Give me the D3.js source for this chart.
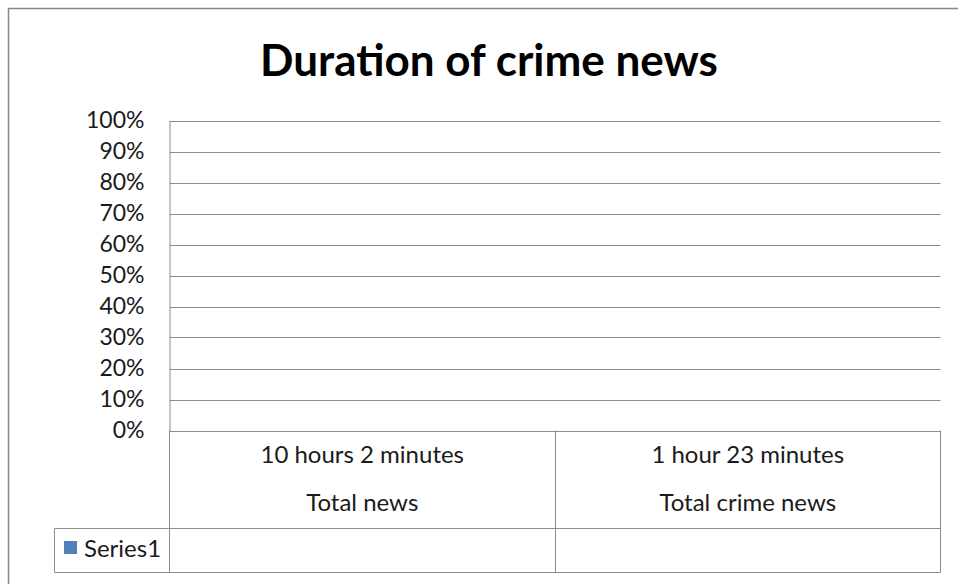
<!DOCTYPE html>
<html><head><meta charset="utf-8">
<script src="https://cdn.jsdelivr.net/npm/d3@7"></script>
<style>body{margin:0;background:#fff;} svg{display:block;}</style>
</head><body>
<script>
const title = "Duration of crime news";
const categoriesTop = ["10 hours 2 minutes", "1 hour 23 minutes"];
const categoriesBottom = ["Total news", "Total crime news"];
const seriesName = "Series1";
const seriesValues = [null, null];
const yTicks = [0, 0.1, 0.2, 0.3, 0.4, 0.5, 0.6, 0.7, 0.8, 0.9, 1.0];

(function () {
const W = 958, H = 584;
const svg = d3.select("body").append("svg").attr("width", W).attr("height", H);
const font = "Lato, 'Open Sans', sans-serif";
const gridColor = "#8c8c8c";
const txt = "#1a1a1a";

svg.append("rect").attr("x", 8.5).attr("y", 8.5).attr("width", 970).attr("height", 590)
  .attr("fill", "#fff").attr("stroke", "#868686").attr("stroke-width", 1.5);

svg.append("text").attr("x", 489).attr("y", 76).attr("text-anchor", "middle")
  .attr("font-family", font).attr("font-weight", "bold").attr("font-size", 44)
  .attr("fill", "#000").text(title);

const pL = 169.5, pR = 940.5, pT = 120.5, pB = 430.5;
const x = d3.scaleBand().domain(d3.range(categoriesTop.length)).range([pL, pR]);
const y = d3.scaleLinear().domain([0, 1]).range([pB, pT]);

svg.append("g").selectAll("line").data(yTicks).join("line")
  .attr("x1", pL).attr("x2", pR)
  .attr("y1", d => Math.round(y(d)) + 0.5).attr("y2", d => Math.round(y(d)) + 0.5)
  .attr("stroke", gridColor).attr("stroke-width", 1);

const yAxis = d3.axisLeft(y).tickValues(yTicks).tickFormat(d3.format(".0%")).tickSize(0).tickPadding(25);
const ga = svg.append("g").attr("transform", `translate(${pL},0)`).call(yAxis);
ga.select(".domain").attr("stroke", gridColor);
ga.selectAll("text").attr("font-family", font).attr("font-size", 23).attr("fill", txt);

svg.append("g").selectAll("rect").data(seriesValues.map((v, i) => ({v, i})).filter(d => d.v != null)).join("rect")
  .attr("x", d => x(d.i) + x.bandwidth() * 0.25).attr("width", x.bandwidth() * 0.5)
  .attr("y", d => y(d.v)).attr("height", d => pB - y(d.v)).attr("fill", "#4F81BD");

const tb1 = 528.5, tb2 = 572.5, legendLeft = 54.5;
const tg = svg.append("g").attr("stroke", gridColor).attr("stroke-width", 1).attr("fill", "none");
tg.append("line").attr("x1", pL).attr("x2", pL).attr("y1", pB).attr("y2", tb2);
tg.append("line").attr("x1", pR).attr("x2", pR).attr("y1", pB).attr("y2", tb2);
categoriesTop.forEach((c, i) => {
  if (i > 0) tg.append("line").attr("x1", Math.round(x(i)) + 0.5).attr("x2", Math.round(x(i)) + 0.5).attr("y1", pB).attr("y2", tb2);
});
tg.append("line").attr("x1", legendLeft).attr("x2", pR).attr("y1", tb1).attr("y2", tb1);
tg.append("line").attr("x1", legendLeft).attr("x2", pR).attr("y1", tb2).attr("y2", tb2);
tg.append("line").attr("x1", legendLeft).attr("x2", legendLeft).attr("y1", tb1).attr("y2", tb2);

const lg = svg.append("g").attr("font-family", font).attr("font-size", 24).attr("fill", txt).attr("text-anchor", "middle");
categoriesTop.forEach((c, i) => {
  lg.append("text").attr("x", x(i) + x.bandwidth() / 2).attr("y", 463).text(c);
  lg.append("text").attr("x", x(i) + x.bandwidth() / 2).attr("y", 511).text(categoriesBottom[i]);
});
seriesValues.forEach((v, i) => {
  if (v != null) lg.append("text").attr("x", x(i) + x.bandwidth() / 2).attr("y", 557).text(d3.format(".0%")(v));
});
svg.append("rect").attr("x", 64).attr("y", 541).attr("width", 13).attr("height", 13).attr("fill", "#4F81BD");
svg.append("text").attr("x", 84).attr("y", 557).attr("font-family", font).attr("font-size", 24).attr("fill", txt).text(seriesName);
})();
</script>
</body></html>
